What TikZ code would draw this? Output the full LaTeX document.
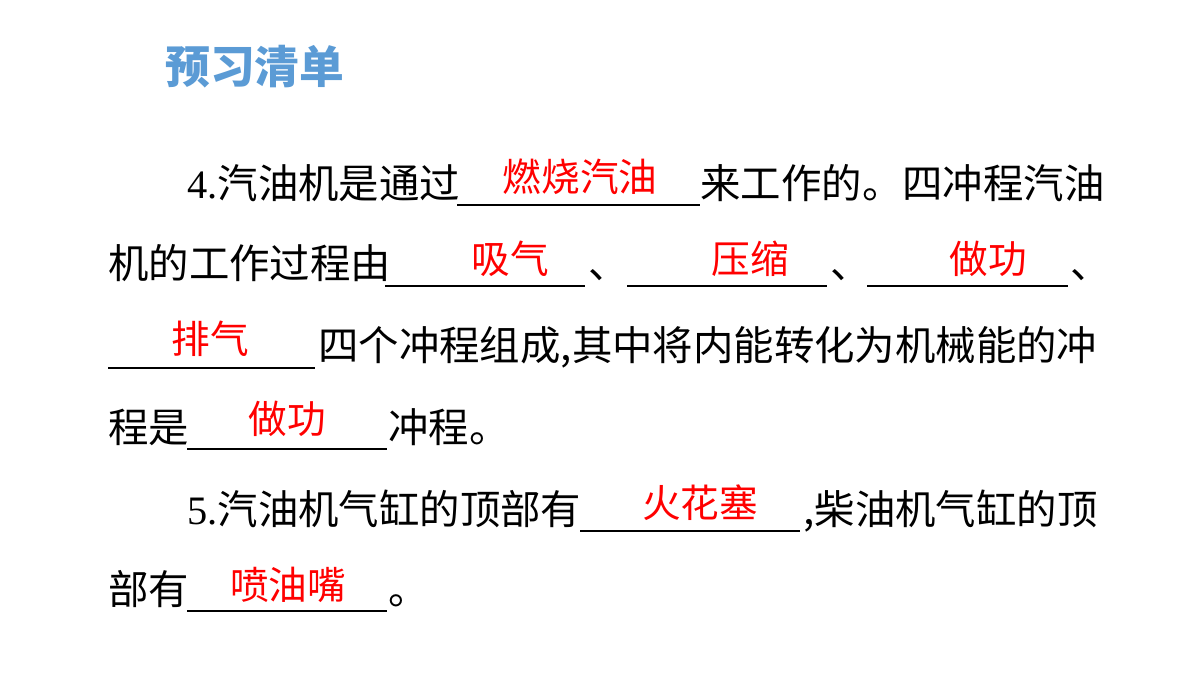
\documentclass[tikz,border=0pt]{standalone}
\usepackage{fontspec}
\newfontfamily\cjk{Noto Sans CJK SC}
\newfontfamily\lat{Liberation Serif}
\definecolor{titleblue}{HTML}{5B9BD5}
\begin{document}
\begin{tikzpicture}[x=0.02cm,y=-0.02cm,
    txt/.style={anchor=base west, inner sep=0, font=\cjk\fontsize{23}{27}\selectfont},
    ans/.style={anchor=base, inner sep=0, text=red, font=\cjk\fontsize{22}{26}\selectfont},
    blank/.style={line width=0.6pt}]
% Frame
\useasboundingbox (0,0) rectangle (1200,675);

% Title
\node[anchor=base west, inner sep=0, text=titleblue, font=\cjk\bfseries\fontsize{25.5}{30}\selectfont]
    (title) at (165,84) {预习清单};

% Line 1
\node[txt] (l1a) at (187,199) {{\lat 4.}汽油机是通过};
\draw[blank] (457,205) coordinate (u1s) -- (700,205) coordinate (u1e);
\node[ans] (a1) at (580,192) {燃烧汽油};
\node[txt] (l1b) at (700,199) {来工作的。四冲程汽油};

% Line 2
\node[txt] (l2a) at (108,279) {机的工作过程由};
\draw[blank] (385,286) -- (585,286);
\node[txt] (l2b) at (588,279) {、};
\draw[blank] (627,286) -- (827,286);
\node[txt] (l2c) at (830,279) {、};
\draw[blank] (867,286) -- (1068,286);
\node[txt] (l2d) at (1070,279) {、};
\node[ans] (a2) at (510,274) {吸气};
\node[ans] (a3) at (750,274) {压缩};
\node[ans] (a4) at (988,274) {做功};

% Line 3
\draw[blank] (108,368) -- (315,368);
\node[ans] (a5) at (210,354) {排气};
\node[txt] (l3a) at (318,361) {四个冲程组成,其中将内能转化为机械能的冲};

% Line 4
\node[txt] (l4a) at (108,442) {程是};
\draw[blank] (187,449) -- (387,449);
\node[ans] (a6) at (287,434) {做功};
\node[txt] (l4b) at (388,442) {冲程。};

% Line 5
\node[txt] (l5a) at (187,524) {{\lat 5.}汽油机气缸的顶部有};
\draw[blank] (580,531) -- (800,531);
\node[ans] (a7) at (700,517) {火花塞};
\node[txt] (l5b) at (803,524) {,柴油机气缸的顶};

% Line 6
\node[txt] (l6a) at (108,604) {部有};
\draw[blank] (187,611) -- (387,611);
\node[ans] (a8) at (288,599) {喷油嘴};
\node[txt] (l6b) at (388,604) {。};
\end{tikzpicture}
\end{document}
